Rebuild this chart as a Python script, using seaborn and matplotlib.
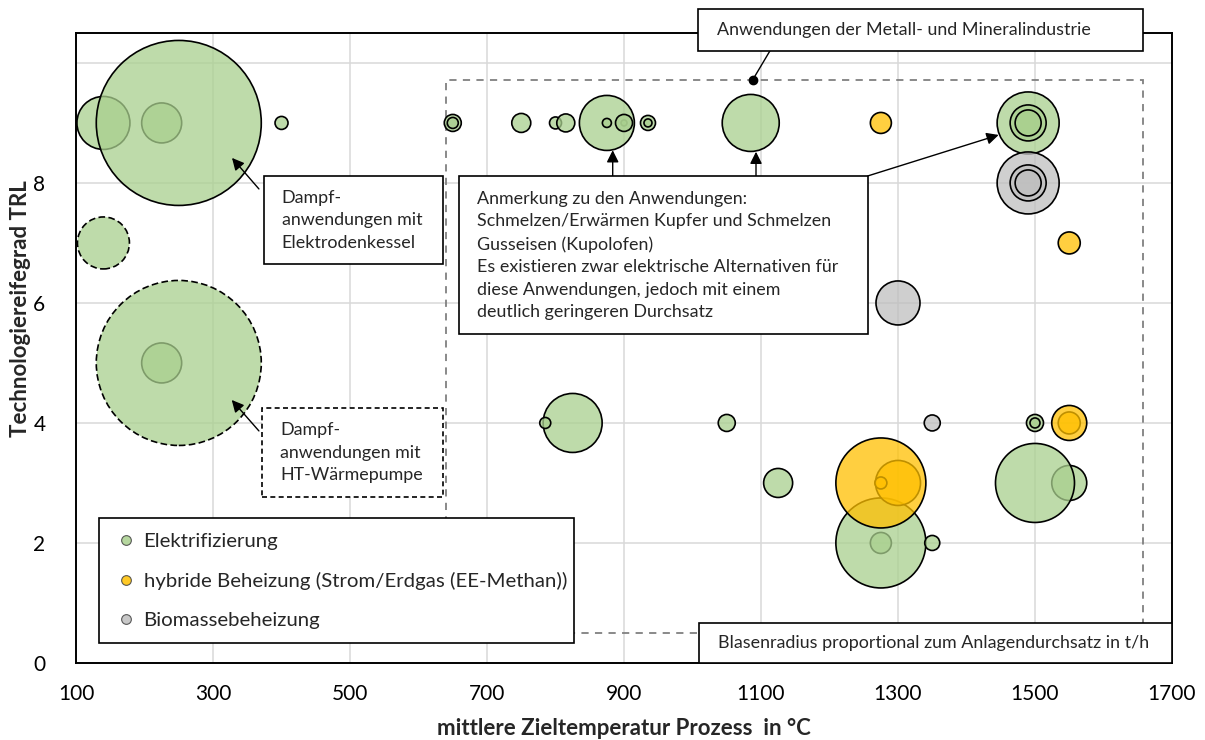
import numpy as np
import pandas as pd
import seaborn as sns
import matplotlib.pyplot as plt
from matplotlib.patches import Rectangle
from matplotlib.lines import Line2D

# Blasen in Zeichenreihenfolge (verdeckte zuerst)
temperatur = [140, 225, 225, 900, 1275, 1550, 250, 250, 140, 1275,
              1300, 1275, 1275, 1500, 1550, 1550, 825, 785, 875, 875,
              1085, 1490, 1490, 1490, 1490, 1490, 1490, 650, 650, 935,
              935, 1500, 1500, 400, 750, 800, 815, 900, 1050, 1125,
              1350, 1275, 1550, 1300, 1350]
trl = [9, 9, 5, 9, 2, 3, 9, 5, 7, 2,
       3, 3, 3, 3, 4, 4, 4, 4, 9, 9,
       9, 9, 9, 9, 8, 8, 8, 9, 9, 9,
       9, 4, 4, 9, 9, 9, 9, 9, 4, 3,
       2, 9, 7, 6, 4]
durchsatz = [26.5, 20, 20, 3, 10.5, 17.5, 82.5, 82.5, 26, 45,
             22.5, 6, 45, 39.5, 11, 17.5, 29.5, 5.5, 27.5, 4.5,
             28.5, 31, 18, 13, 31, 18, 13, 8.5, 5.5, 7.5,
             4, 8.5, 5, 6.5, 9.5, 6, 9, 8.5, 8.5, 14.5,
             7.5, 10.5, 11, 22, 8]
E, H, B = "Elektrifizierung", "hybride Beheizung (Strom/Erdgas (EE-Methan))", "Biomassebeheizung"
kategorie = [E, E, E, E, E, E, E, E, E, E,
             H, H, H, E, H, H, E, E, E, E,
             E, E, E, E, B, B, B, E, E, E,
             E, E, E, E, E, E, E, E, E, E,
             E, H, H, B, B]
gestrichelt = [False] * 45
gestrichelt[7] = True
gestrichelt[8] = True

farben = {E: "#A9D08E", H: "#FFC000", B: "#BFBFBF"}

df = pd.DataFrame({"temperatur": temperatur, "trl": trl, "durchsatz": durchsatz,
                   "kategorie": kategorie})
df["flaeche"] = df["durchsatz"] ** 2

sns.set_theme(style="white")
plt.rcParams["font.family"] = ["Lato", "DejaVu Sans"]

fig = plt.figure(figsize=(12.05, 7.4), dpi=100)
ax = fig.add_axes([0.0631, 0.1041, 0.9095, 0.8514])

# radius 82.5 px -> durchmesser 165 px = 118.8 pt
smax = (2 * 82.5 * 0.72) ** 2
sns.scatterplot(data=df, x="temperatur", y="trl", hue="kategorie", palette=farben,
                size="flaeche", sizes=(0, smax), size_norm=(0, df["flaeche"].max()),
                edgecolor="black", linewidth=1.2, legend=False, ax=ax, zorder=3)
coll = ax.collections[0]
fc = coll.get_facecolors()
fc[:, 3] = 0.75
coll.set_facecolors(fc)
coll.set_edgecolors("black")
coll.set_linestyle([(0, (4, 2)) if g else "-" for g in gestrichelt])

ax.set_xlim(100, 1700)
ax.set_ylim(0, 10.5)
ax.set_xticks(range(100, 1701, 200))
ax.set_yticks([0, 2, 4, 6, 8, 10])
ax.set_yticklabels(["0", "2", "4", "6", "8", ""])
ax.tick_params(axis="both", length=0, labelsize=15, colors="black")
ax.tick_params(axis="x", pad=15)
ax.tick_params(axis="y", pad=22)
ax.grid(True, color="#D9D9D9", linewidth=1.1)
ax.set_axisbelow(True)
for sp in ax.spines.values():
    sp.set_color("black")
    sp.set_linewidth(1.4)

ax.set_xlabel("mittlere Zieltemperatur Prozess  in °C", fontsize=16, fontweight="bold")
ax.set_ylabel("Technologiereifegrad TRL", fontsize=16, fontweight="bold")
ax.xaxis.set_label_coords(0.5, -0.088)
ax.yaxis.set_label_coords(-0.041, 0.563)

# gestrichelter Rahmen Metall-/Mineralindustrie
ax.add_patch(Rectangle((640, 0.505), 1017, 9.215, fill=False, edgecolor="#808080",
                       linewidth=1.3, linestyle=(0, (4, 3.5)), zorder=2))

def kasten(x0, x1, y0, y1, ls="-", clip=True):
    ax.add_patch(Rectangle((x0, y0), x1 - x0, y1 - y0, facecolor="white",
                           edgecolor="black", linewidth=1.2, linestyle=ls,
                           zorder=6, clip_on=clip))

tstyle = dict(fontsize=12.9, va="center", ha="left", linespacing=1.5, zorder=7)

kasten(374.5, 635.8, 6.65, 8.117)
ax.text(400, 7.375, "Dampf-\nanwendungen mit\nElektrodenkessel", **tstyle)
kasten(371.5, 635.8, 2.767, 4.25, ls=(0, (3, 2)))
ax.text(398, 3.5, "Dampf-\nanwendungen mit\nHT-Wärmepumpe", **tstyle)
kasten(659, 1256, 5.483, 8.117)
ax.text(685, 6.79, "Anmerkung zu den Anwendungen:\nSchmelzen/Erwärmen Kupfer und Schmelzen\n"
        "Gusseisen (Kupolofen)\nEs existieren zwar elektrische Alternativen für\n"
        "diese Anwendungen, jedoch mit einem\ndeutlich geringeren Durchsatz", **tstyle)
kasten(1008, 1658, 10.2, 10.9, clip=False)
ax.text(1036, 10.55, "Anwendungen der Metall- und Mineralindustrie", clip_on=False, **tstyle)
kasten(1009.5, 1700, 0, 0.667)
ax.text(1352, 0.333, "Blasenradius proportional zum Anlagendurchsatz in t/h",
        fontsize=12.9, va="center", ha="center", zorder=7)

# Verbindungslinie mit Punkt
ax.plot([1113, 1088], [10.2, 9.72], color="black", linewidth=1, zorder=5, clip_on=False)
ax.plot([1088], [9.72], "o", color="black", markersize=6, zorder=5)

pfeil = dict(arrowstyle="-|>", color="black", lw=1, mutation_scale=18, shrinkA=0, shrinkB=0)
for start, ziel in [((367, 7.9), (327.7, 8.417)),
                    ((367, 3.867), (327.3, 4.383)),
                    ((883.5, 8.117), (883.5, 8.545)),
                    ((1092.7, 8.117), (1092.7, 8.52)),
                    ((1256, 8.117), (1447, 8.8))]:
    ax.annotate("", xy=ziel, xytext=start, arrowprops=pfeil, zorder=5)

handles = [Line2D([], [], linestyle="", marker="o", markersize=7,
                  markerfacecolor=farben[k], markeredgecolor="#404040",
                  markeredgewidth=0.8, alpha=0.85) for k in [E, H, B]]
leg = ax.legend(handles, [E, H, B], loc="lower left",
                bbox_to_anchor=(0.021, 0.0317, 0.433, 0.198), mode="expand",
                borderaxespad=0, fontsize=14.7, frameon=True, fancybox=False,
                edgecolor="black", framealpha=1, handlelength=1.3,
                handletextpad=0.2, labelspacing=1.08, borderpad=0.68)
leg.get_frame().set_linewidth(1.2)
leg.set_zorder(8)

fig.savefig("out.png", dpi=100)
